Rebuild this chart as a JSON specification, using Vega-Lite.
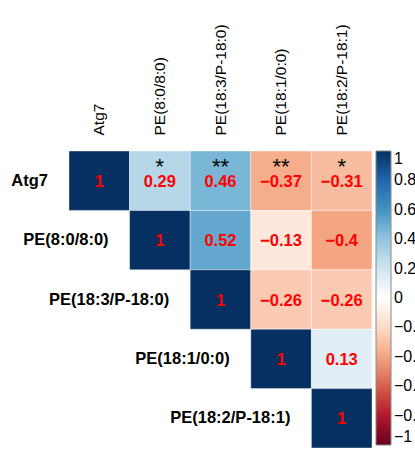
{
  "$schema": "https://vega.github.io/schema/vega-lite/v6.json",
  "width": 303,
  "height": 297,
  "autosize": {"type": "none"},
  "padding": {"left": 69, "top": 151, "right": 43, "bottom": 5},
  "background": "white",
  "config": {"view": {"stroke": null}, "font": "Liberation Sans"},
  "data": {"values": [
    {"row": "Atg7", "col": "Atg7", "r": 1, "sig": "", "diag": true},
    {"row": "Atg7", "col": "PE(8:0/8:0)", "r": 0.29, "sig": "*", "diag": false},
    {"row": "Atg7", "col": "PE(18:3/P-18:0)", "r": 0.46, "sig": "**", "diag": false},
    {"row": "Atg7", "col": "PE(18:1/0:0)", "r": -0.37, "sig": "**", "diag": false},
    {"row": "Atg7", "col": "PE(18:2/P-18:1)", "r": -0.31, "sig": "*", "diag": false},
    {"row": "PE(8:0/8:0)", "col": "PE(8:0/8:0)", "r": 1, "sig": "", "diag": true},
    {"row": "PE(8:0/8:0)", "col": "PE(18:3/P-18:0)", "r": 0.52, "sig": "", "diag": false},
    {"row": "PE(8:0/8:0)", "col": "PE(18:1/0:0)", "r": -0.13, "sig": "", "diag": false},
    {"row": "PE(8:0/8:0)", "col": "PE(18:2/P-18:1)", "r": -0.4, "sig": "", "diag": false},
    {"row": "PE(18:3/P-18:0)", "col": "PE(18:3/P-18:0)", "r": 1, "sig": "", "diag": true},
    {"row": "PE(18:3/P-18:0)", "col": "PE(18:1/0:0)", "r": -0.26, "sig": "", "diag": false},
    {"row": "PE(18:3/P-18:0)", "col": "PE(18:2/P-18:1)", "r": -0.26, "sig": "", "diag": false},
    {"row": "PE(18:1/0:0)", "col": "PE(18:1/0:0)", "r": 1, "sig": "", "diag": true},
    {"row": "PE(18:1/0:0)", "col": "PE(18:2/P-18:1)", "r": 0.13, "sig": "", "diag": false},
    {"row": "PE(18:2/P-18:1)", "col": "PE(18:2/P-18:1)", "r": 1, "sig": "", "diag": true}
  ]},
  "layer": [
    {
      "mark": {"type": "rect", "stroke": "white", "strokeWidth": 1, "strokeOpacity": 0.4},
      "encoding": {
        "x": {"field": "col", "type": "nominal", "sort": null,
              "scale": {"paddingInner": 0, "paddingOuter": 0},
              "axis": {"orient": "top", "title": null, "domain": false, "ticks": false, "tickSize": 0,
                       "labelAngle": -90, "labelPadding": 16, "labelFontSize": 15.5,
                       "labelFont": "Liberation Sans", "labelColor": "black"}},
        "y": {"field": "row", "type": "nominal", "sort": null,
              "scale": {"paddingInner": 0, "paddingOuter": 0}, "axis": null},
        "color": {"field": "r", "type": "quantitative",
                  "scale": {"domain": [-1, -0.8, -0.6, -0.4, -0.2, 0, 0.2, 0.4, 0.6, 0.8, 1],
                            "range": ["#67001F", "#B2182B", "#D6604D", "#F4A582", "#FDDBC7", "#FFFFFF", "#D1E5F0", "#92C5DE", "#4393C3", "#2166AC", "#053061"],
                            "interpolate": "rgb"},
                  "legend": {"title": null, "orient": "none", "legendX": 307, "legendY": 0,
                             "direction": "vertical", "gradientLength": 294, "gradientThickness": 15,
                             "gradientStrokeColor": "#888888", "gradientStrokeWidth": 1,
                             "values": [-1, -0.8, -0.6, -0.4, -0.2, 0, 0.2, 0.4, 0.6, 0.8, 1],
                             "format": "~g",
                             "labelFontSize": 16, "labelFont": "Liberation Sans", "labelColor": "black",
                             "labelOffset": 3, "labelOverlap": false}}
      }
    },
    {
      "mark": {"type": "text", "color": "#ff0000", "fontWeight": "bold", "fontSize": 16.5, "baseline": "middle", "dy": 1},
      "encoding": {
        "x": {"field": "col", "type": "nominal", "sort": null},
        "y": {"field": "row", "type": "nominal", "sort": null},
        "text": {"field": "r", "type": "quantitative", "format": ".2~f"}
      }
    },
    {
      "mark": {"type": "text", "color": "black", "fontSize": 22, "baseline": "alphabetic", "dy": 23},
      "encoding": {
        "x": {"field": "col", "type": "nominal", "sort": null},
        "y": {"field": "row", "type": "nominal", "sort": null, "bandPosition": 0},
        "text": {"field": "sig", "type": "nominal"}
      }
    },
    {
      "transform": [{"filter": "datum.diag"}],
      "mark": {"type": "text", "color": "black", "fontWeight": "bold", "fontSize": 16.5, "align": "right", "baseline": "middle", "dx": -21},
      "encoding": {
        "x": {"field": "col", "type": "nominal", "sort": null, "bandPosition": 0},
        "y": {"field": "row", "type": "nominal", "sort": null},
        "text": {"field": "row", "type": "nominal"}
      }
    }
  ]
}
